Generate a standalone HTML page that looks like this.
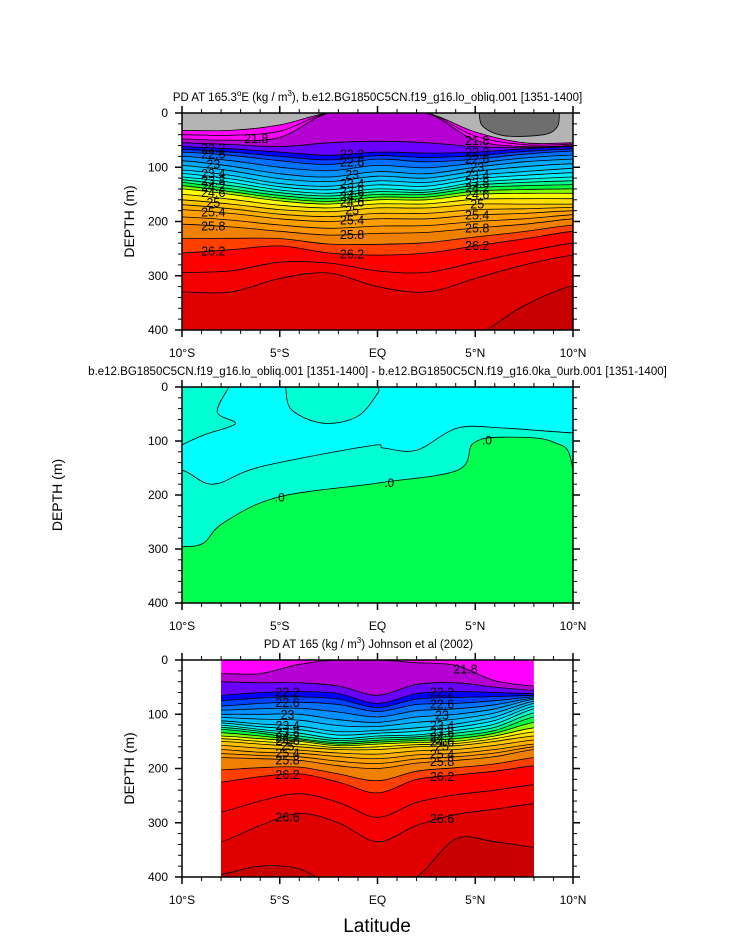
<!DOCTYPE html>
<html><head><meta charset="utf-8">
<style>
html,body{margin:0;padding:0;background:#fff;}
svg{display:block;font-family:"Liberation Sans",sans-serif;}
</style></head>
<body>
<svg id="fig" width="733" height="945" viewBox="0 0 733 945"></svg>
<script>
// ---------- DATA ----------
const p1Lats = [-10,-7.5,-5,-2.5,0,2.5,5,7.5,10];
const p1Levels = [21.4,21.8,22.0,22.2,22.6,23.0,23.4,23.8,24.2,24.6,25.0,25.4,25.8,26.2,26.6,26.8];
const p1Depths = [
 [32,32,22,0,0,0,35,55,55],
 [48,50,45,0,0,0,50,62,60],
 [55,58,62,55,52,55,62,64,61],
 [62,66,72,78,72,74,72,66,62],
 [72,78,88,95,85,90,85,76,70],
 [88,98,112,118,108,112,100,90,85],
 [105,115,130,135,125,128,115,108,102],
 [118,128,142,148,140,142,128,122,118],
 [128,140,152,158,150,150,138,134,132],
 [140,150,162,168,160,160,150,148,148],
 [160,168,178,182,175,175,168,168,168],
 [178,185,195,200,195,195,188,185,180],
 [205,210,218,225,222,220,212,205,195],
 [258,252,245,258,262,258,245,232,218],
 [330,330,305,295,320,330,305,280,262],
 [420,420,420,420,420,420,410,355,318]
];
const p1DarkLat = [5.2,5.4,6.5,8.5,9.2,9.3];
const p1DarkDepth = [0,25,42,40,25,0];

const p3Lats = [-8,-6,-4,-2,0,2,4,6,8];
const p3Levels = [21.8,22.0,22.2,22.6,23.0,23.4,23.8,24.2,24.6,25.0,25.4,25.8,26.2,26.6,26.8];
const p3Depths = [
 [25,25,8,0,0,5,10,38,48],
 [40,42,42,48,65,45,42,50,56],
 [65,60,58,62,80,62,58,60,62],
 [85,80,78,82,95,82,80,75,68],
 [100,100,100,110,115,105,100,90,72],
 [112,118,122,132,130,125,118,105,80],
 [120,128,135,145,140,138,130,118,90],
 [128,135,145,152,148,145,140,130,105],
 [140,145,150,158,155,152,150,140,125],
 [150,155,160,165,165,160,158,150,140],
 [165,170,172,178,182,175,172,165,155],
 [180,182,185,195,200,190,185,178,165],
 [225,215,210,225,245,220,212,205,195],
 [335,305,283,300,335,305,285,275,265],
 [395,380,385,420,420,400,330,335,345]
];

// panel 2: difference field regions
const p2GreenLat = [-10,-8.9,-7.9,-5.1,0,4.1,4.9,6.4,9,10];
const p2GreenDepth = [296,289,252,204,178,154,104,93,102,154];
const p2MidLat = [-10,-8.4,-6,-0.4,0.3,2,4.1,6.4,10];
const p2MidDepth = [154,180,148,109,113,117,76,76,85];
const p2TLBLat = [-7.6,-8.2,-7.3,-7.6,-8.9,-10];
const p2TLBDepth = [0,46,65,74,89,107];
const p2BlobLat = [-4.7,-4.4,-2.8,-1.05,0,0];
const p2BlobDepth = [0,42,67,55,12,0];

const xTickLabels = ["10°S","5°S","EQ","5°N","10°N"];
const xTickVals = [-10,-5,0,5,10];
const yTickVals = [0,100,200,300,400];

const colorTable = {
 "21.0":"#b4b4b4","21.4":"#ff00ff","21.6":"#ff00ff","21.8":"#b400d2","22.0":"#6a00ff",
 "22.2":"#0000ff","22.4":"#0040ff","22.6":"#0070ff","22.8":"#0090ff","23.0":"#00aaff",
 "23.2":"#00c0ff","23.4":"#00d8ff","23.6":"#00f0ff","23.8":"#00ffd0","24.0":"#00ff90",
 "24.2":"#00ff40","24.4":"#80ff00","24.6":"#ffff00","24.8":"#ffe000","25.0":"#ffc400",
 "25.2":"#ffb000","25.4":"#ffa000","25.6":"#ff9400","25.8":"#f08000","26.0":"#ff4000",
 "26.2":"#ff0000","26.4":"#f40000","26.6":"#e00000","26.8":"#c80000"
};

// ---------- HELPERS ----------
const NS="http://www.w3.org/2000/svg";
const svg=document.getElementById('fig');
function el(tag,attrs,parent){const e=document.createElementNS(NS,tag);for(const k in attrs)e.setAttribute(k,attrs[k]);(parent||svg).appendChild(e);return e;}
function mkX(x0,x1){return lat=>x0+(lat+10)/20*(x1-x0);}
function mkY(y0,y1){return d=>y0+d/400*(y1-y0);}
function smooth(pts){
  let s="M"+pts[0][0].toFixed(1)+","+pts[0][1].toFixed(1);
  for(let i=0;i<pts.length-1;i++){
    const p0=pts[Math.max(0,i-1)],p1=pts[i],p2=pts[i+1],p3=pts[Math.min(pts.length-1,i+2)];
    const c1=[p1[0]+(p2[0]-p0[0])/6,p1[1]+(p2[1]-p0[1])/6];
    const c2=[p2[0]-(p3[0]-p1[0])/6,p2[1]-(p3[1]-p1[1])/6];
    s+=" C"+c1[0].toFixed(1)+","+c1[1].toFixed(1)+" "+c2[0].toFixed(1)+","+c2[1].toFixed(1)+" "+p2[0].toFixed(1)+","+p2[1].toFixed(1);
  }
  return s;
}
function expandLevels(levels,depths){
  const L=[],D=[];
  for(let i=0;i<levels.length;i++){
    L.push(levels[i]);D.push(depths[i]);
    if(i<levels.length-1){
      const gap=Math.round((levels[i+1]-levels[i])*10)/10;
      if(gap>=0.4){
        L.push(Math.round((levels[i]+0.2)*10)/10);
        D.push(depths[i].map((d,j)=>(d+depths[i+1][j])/2));
      }
    }
  }
  return {L,D};
}
function axes(g,x0,y0,x1,y1,X,Y,title,panel,ytx,tdx){
  el('rect',{x:x0,y:y0,width:x1-x0,height:y1-y0,fill:'none',stroke:'#000','stroke-width':1.5},g);
  for(let lat=-10;lat<=10;lat++){
    const maj=lat%5===0, x=X(lat), len=maj?7:4;
    el('line',{x1:x,y1:y1,x2:x,y2:y1+len,stroke:'#000','stroke-width':maj?1.5:1},g);
    el('line',{x1:x,y1:y0,x2:x,y2:y0-len,stroke:'#000','stroke-width':maj?1.5:1},g);
  }
  for(let d=0;d<=400;d+=20){
    const maj=d%100===0, y=Y(d), len=maj?7:4;
    el('line',{x1:x0,y1:y,x2:x0-len,y2:y,stroke:'#000','stroke-width':maj?1.5:1},g);
    el('line',{x1:x1,y1:y,x2:x1+len,y2:y,stroke:'#000','stroke-width':maj?1.5:1},g);
  }
  xTickVals.forEach((v,i)=>{
    const t=el('text',{x:X(v),y:y1+27,'font-size':12,'text-anchor':'middle'},g);
    t.textContent=xTickLabels[i];
    
    
  });
  yTickVals.forEach(v=>{
    const t=el('text',{x:x0-14,y:Y(v)+4,'font-size':12,'text-anchor':'end'},g);
    t.textContent=String(v);
    
    
  });
  const tt=el('text',{x:(x0+x1)/2+tdx,y:y0-12,'font-size':11.5,'text-anchor':'middle'},g);
  tt.innerHTML=title;
  
  
  const yt=el('text',{x:ytx,y:(y0+y1)/2,'font-size':14,'text-anchor':'middle',transform:'rotate(-90 '+ytx+' '+(y0+y1)/2+')'},g);
  yt.textContent='DEPTH (m)';
  
  
}
function contourPanel(name,x0,y0,x1,y1,lats,levels,depths,baseColor,clipLat){
  const X=mkX(x0,x1),Y=mkY(y0,y1);
  const g=el('g',{});
  
  
  const cid=name+'-clip';
  const cp=el('clipPath',{id:cid},g);
  const cx0=clipLat?X(clipLat[0]):x0, cx1=clipLat?X(clipLat[1]):x1;
  el('rect',{x:cx0,y:y0,width:cx1-cx0,height:y1-y0},cp);
  const fg=el('g',{'clip-path':'url(#'+cid+')'},g);
  el('rect',{x:cx0,y:y0,width:cx1-cx0,height:y1-y0,fill:baseColor},fg);
  const E=expandLevels(levels,depths);
  const lines=[];
  E.L.forEach((lv,i)=>{
    const pts=lats.map((la,j)=>[X(la),Y(E.D[i][j])]);
    const ext=[[X(lats[0])-30,pts[0][1]],...pts,[X(lats[lats.length-1])+30,pts[pts.length-1][1]]];
    const c=smooth(ext);
    const band=el('path',{d:c+" L"+(x1+40)+","+(y1+40)+" L"+(x0-40)+","+(y1+40)+" Z",fill:colorTable[lv.toFixed(1)]||'#c80000'},fg);
    
    
    lines.push([lv,c]);
  });
  return {g,fg,X,Y,lines,E};
}
function drawLines(P){
  P.lines.forEach(([lv,c])=>{
    const l=el('path',{d:c,fill:'none',stroke:'#000','stroke-width':0.8},P.fg);
    
    
  });
}
function labelAt(P,lats,labelLats,levelsShown){
  labelLats.forEach(la=>{
    levelsShown.forEach(lvs=>{
      const i=P.E.L.findIndex(v=>Math.abs(v-parseFloat(lvs))<0.01);
      if(i<0)return;
      let k=0;while(k<lats.length-2&&lats[k+1]<la)k++;
      const f=(la-lats[k])/(lats[k+1]-lats[k]);
      const d=P.E.D[i][k]*(1-f)+P.E.D[i][k+1]*f;
      if(d<4)return;
      const t=el('text',{x:P.X(la),y:P.Y(d)+4.5,'font-size':12.5,'text-anchor':'middle'},P.fg);
      t.textContent=lvs;
      
      
    });
  });
}

// ---------- PANEL 1 ----------
const P1=contourPanel('panel-1-model-density',182,113,573,330,p1Lats,p1Levels,p1Depths,'#b4b4b4');
{
  const pts=p1DarkLat.map((la,i)=>[P1.X(la),P1.Y(p1DarkDepth[i])]);
  const dk=el('path',{d:smooth(pts)+" Z",fill:'#6e6e6e',stroke:'#000','stroke-width':0.8},P1.fg);
  
  
}
drawLines(P1);
labelAt(P1,p1Lats,[-8.4,-1.3,5.1],["22.2","22.6","23","23.4","23.8","24.2","24.6","25","25.4","25.8","26.2"]);
labelAt(P1,p1Lats,[-6.2,5.1],["21.8"]);
axes(svg,182,113,573,330,P1.X,P1.Y,'PD AT 165.3<tspan font-size="8" dy="-5">o</tspan><tspan dy="5">E (kg / m</tspan><tspan font-size="8" dy="-5">3</tspan><tspan dy="5">), b.e12.BG1850C5CN.f19_g16.lo_obliq.001 [1351-1400]</tspan>','panel-1',134,0);

// ---------- PANEL 2 ----------
{
  const X=mkX(182,573),Y=mkY(387,603);
  const g=el('g',{});
  
  
  const cp=el('clipPath',{id:'c2'},g);
  el('rect',{x:182,y:387,width:391,height:216},cp);
  const fg=el('g',{'clip-path':'url(#c2)'},g);
  el('rect',{x:182,y:387,width:391,height:216,fill:'#00ffff'},fg);
  const tl=p2TLBLat.map((la,i)=>[X(la),Y(p2TLBDepth[i])]);
  const tlp=el('path',{d:"M170,380 L"+X(p2TLBLat[0])+",380 "+smooth(tl).replace('M','L')+" L170,"+Y(107)+" Z",fill:'#00ffd2'},fg);
  
  const bl=p2BlobLat.map((la,i)=>[X(la),Y(p2BlobDepth[i])]);
  el('path',{d:smooth(bl)+" Z",fill:'#00ffd2'},fg);
  const mid=[[150,Y(p2MidDepth[0])],...p2MidLat.map((la,i)=>[X(la),Y(p2MidDepth[i])]),[600,Y(p2MidDepth[p2MidDepth.length-1])]];
  const midc=smooth(mid);
  el('path',{d:midc+" L600,620 L150,620 Z",fill:'#00ffd2'},fg);
  const gr=[[150,Y(p2GreenDepth[0])],...p2GreenLat.map((la,i)=>[X(la),Y(p2GreenDepth[i])]),[X(10.3),Y(400)]];
  const grc=smooth(gr);
  el('path',{d:grc+" L600,620 L150,620 Z",fill:'#00ff50'},fg);
  [smooth(tl),smooth(bl),midc,grc].forEach(d=>{
    const l=el('path',{d:d,fill:'none',stroke:'#000','stroke-width':0.8},fg);
    
  });
  [[-5,205],[0.6,178],[5.6,99]].forEach(p=>{
    const t=el('text',{x:X(p[0]),y:Y(p[1])+4,'font-size':12,'text-anchor':'middle'},fg);
    t.textContent='.0';
    
    
  });
  axes(svg,182,387,573,603,X,Y,'b.e12.BG1850C5CN.f19_g16.lo_obliq.001 [1351-1400] - b.e12.BG1850C5CN.f19_g16.0ka_0urb.001 [1351-1400]','panel-2',62,0);
}

// ---------- PANEL 3 ----------
const P3=contourPanel('panel-3-observed-density',182,660,573,877,p3Lats,p3Levels,p3Depths,'#ff00ff',[-8,8]);
drawLines(P3);
labelAt(P3,p3Lats,[-4.6,3.3],["22.2","22.6","23","23.4","23.8","24.2","24.6","25","25.4","25.8","26.2","26.6"]);
labelAt(P3,p3Lats,[4.5],["21.8"]);
axes(svg,182,660,573,877,P3.X,P3.Y,'PD AT 165 (kg / m<tspan font-size="8" dy="-5">3</tspan><tspan dy="5">) Johnson et al (2002)</tspan>','panel-3',134,-9);

const xt=el('text',{x:377,y:932,'font-size':19,'text-anchor':'middle'});
xt.textContent='Latitude';


</script>
</body></html>
